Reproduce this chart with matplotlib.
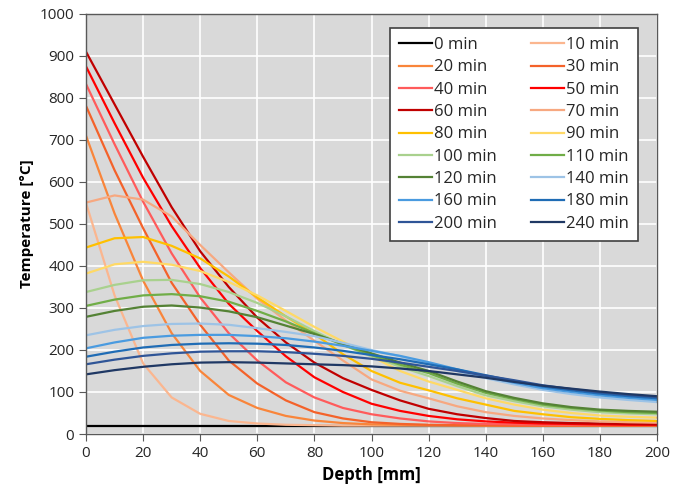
import matplotlib.pyplot as plt
import numpy as np

plt.rcParams["font.family"] = ["Open Sans", "DejaVu Sans"]

depth_mm = [0, 10, 20, 30, 40, 50, 60, 70, 80, 90, 100, 110, 120, 130, 140, 150, 160, 170, 180, 190, 200]

# temperature profiles [degC] at each depth, one list per time step
t_0 = [20] * 21
t_10 = [550, 330, 168, 87, 48, 31, 25, 22, 21, 20, 20, 20, 20, 20, 20, 20, 20, 20, 20, 20, 20]
t_20 = [710, 525, 365, 240, 150, 93, 62, 43, 32, 26, 23, 22, 21, 21, 20, 20, 20, 20, 20, 20, 20]
t_30 = [781, 628, 490, 360, 260, 175, 120, 80, 52, 37, 28, 24, 22, 21, 21, 20, 20, 20, 20, 20, 20]
t_40 = [833, 690, 553, 430, 325, 240, 175, 123, 87, 62, 47, 37, 30, 26, 24, 23, 22, 22, 22, 22, 22]
t_50 = [875, 740, 610, 495, 395, 310, 245, 185, 135, 100, 72, 55, 43, 35, 30, 27, 25, 24, 23, 22, 22]
t_60 = [910, 785, 660, 540, 435, 350, 277, 218, 170, 133, 105, 80, 60, 47, 38, 31, 28, 26, 25, 24, 23]
t_70 = [551, 568, 558, 518, 450, 385, 322, 270, 222, 175, 130, 103, 85, 66, 52, 43, 37, 33, 30, 28, 27]
t_80 = [444, 466, 469, 448, 418, 375, 325, 280, 238, 190, 150, 122, 104, 85, 70, 55, 47, 40, 36, 33, 31]
t_90 = [382, 404, 410, 403, 388, 362, 330, 293, 255, 220, 185, 150, 125, 105, 85, 70, 58, 50, 44, 41, 39]
t_100 = [338, 355, 366, 367, 357, 338, 312, 280, 245, 212, 185, 160, 138, 114, 92, 78, 66, 58, 52, 49, 47]
t_110 = [305, 320, 330, 333, 328, 315, 293, 268, 240, 212, 188, 165, 145, 120, 98, 83, 70, 62, 56, 52, 50]
t_120 = [279, 293, 303, 306, 301, 292, 278, 258, 238, 215, 192, 170, 150, 125, 102, 86, 73, 64, 58, 55, 53]
t_140 = [235, 248, 257, 262, 263, 260, 252, 243, 233, 217, 200, 185, 168, 150, 133, 118, 105, 95, 87, 81, 76]
t_160 = [204, 218, 229, 234, 236, 236, 233, 228, 220, 210, 198, 186, 171, 154, 137, 122, 109, 100, 92, 86, 81]
t_180 = [184, 196, 206, 212, 215, 216, 215, 212, 206, 198, 188, 178, 166, 154, 140, 126, 113, 104, 96, 90, 85]
t_200 = [166, 177, 186, 192, 196, 197, 197, 195, 191, 186, 179, 170, 160, 150, 139, 128, 116, 107, 99, 93, 88]
t_240 = [142, 152, 160, 166, 170, 171, 170, 168, 166, 164, 161, 156, 150, 142, 134, 124, 115, 108, 101, 95, 90]

labels = ["0 min", "10 min", "20 min", "30 min", "40 min", "50 min", "60 min", "70 min", "80 min",
          "90 min", "100 min", "110 min", "120 min", "140 min", "160 min", "180 min", "200 min", "240 min"]
profiles = [t_0, t_10, t_20, t_30, t_40, t_50, t_60, t_70, t_80,
            t_90, t_100, t_110, t_120, t_140, t_160, t_180, t_200, t_240]
colors = ["#000000", "#FBB68F", "#F9853A", "#F4622A", "#FF5B5B", "#FF0000", "#C00000", "#F7A880", "#FFC000",
          "#FFD966", "#A9D18E", "#70AD47", "#548235", "#9DC3E6", "#4A9BE0", "#1F6CB5", "#2F5597", "#1F3864"]

fig = plt.figure(figsize=(6.86, 4.96), dpi=100)
ax = fig.add_axes([0.1254, 0.125, 0.8323, 0.8468])
ax.set_facecolor("#D9D9D9")

handles = []
for lab, prof, col in zip(labels, profiles, colors):
    (h,) = ax.plot(depth_mm, prof, color=col, linewidth=1.6, label=lab)
    handles.append(h)

ax.set_xlim(0, 200)
ax.set_ylim(0, 1000)
ax.set_xticks(np.arange(0, 201, 20))
ax.set_yticks(np.arange(0, 1001, 100))
ax.grid(color="white", linewidth=1.2)
ax.set_axisbelow(True)
for sp in ax.spines.values():
    sp.set_color("#595959")
    sp.set_linewidth(1.0)
ax.tick_params(direction="out", length=5, color="#595959", labelsize=11, labelcolor="#262626")
ax.set_xlabel("Depth [mm]", fontsize=12, fontweight="bold")
ax.set_ylabel("Temperature [°C]", fontsize=11, fontweight="bold")

# legend reads row by row in the original, matplotlib fills columns first
order = list(range(0, 18, 2)) + list(range(1, 18, 2))
leg = ax.legend([handles[i] for i in order], [labels[i] for i in order], ncol=2,
                loc="upper right", bbox_to_anchor=(0.9667, 0.9667), borderaxespad=0,
                fontsize=12, frameon=True, fancybox=False, edgecolor="#404040", framealpha=1,
                handlelength=2.0, handletextpad=0.12, columnspacing=2.0,
                labelspacing=0.38, borderpad=0.55)
leg.get_frame().set_linewidth(1.2)
for txt in leg.get_texts():
    txt.set_color("#262626")

fig.savefig("out.png", dpi=100)
